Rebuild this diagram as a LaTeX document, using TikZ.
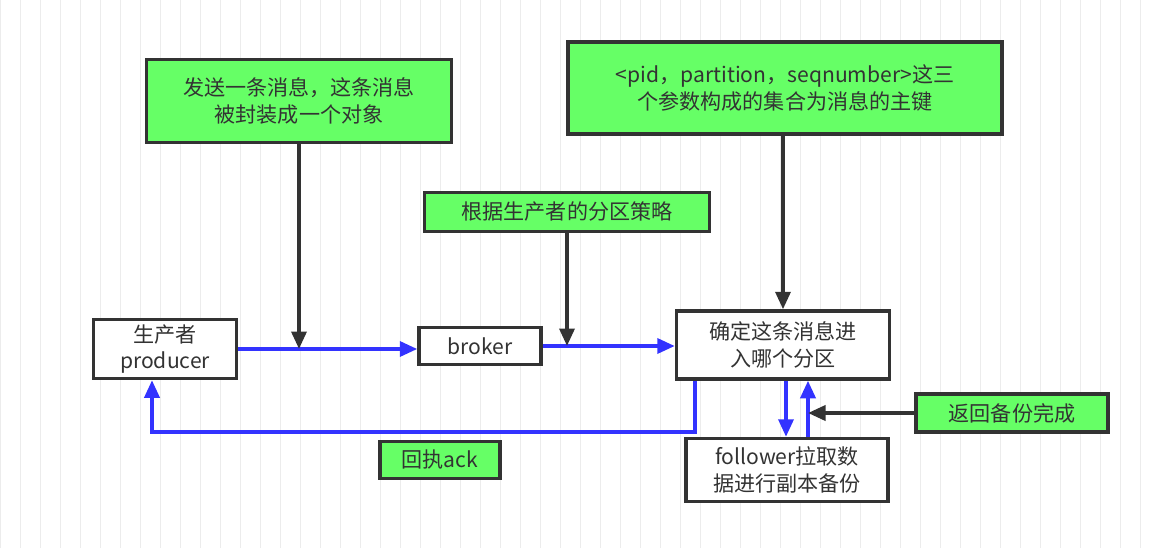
\documentclass[tikz,border=0pt]{standalone}
\usepackage{fontspec}
\setmainfont{Noto Sans CJK SC}
\usetikzlibrary{arrows.meta, positioning}
\definecolor{notegreen}{RGB}{102, 255, 102}
\definecolor{flowblue}{RGB}{51, 51, 255}
\definecolor{linegray}{RGB}{51, 51, 51}

\begin{document}
\begin{tikzpicture}[
    x=0.02cm, y=-0.02cm,
    box/.style={rectangle, draw=linegray, line width=2pt, fill=white, align=center, inner sep=1pt, font=\fontsize{12}{15}\selectfont, text=linegray},
    note/.style={box, fill=notegreen},
    arrow/.style={-{Triangle[length=3.5mm, width=3mm]}, line width=2pt, draw=linegray},
    flow/.style={arrow, draw=flowblue}
]
\useasboundingbox (0,0) rectangle (1157,548);
\draw[gray!15, step=20] (0,0) grid (1157,548);

% 说明框
\node[note, minimum width=6.1cm, minimum height=1.66cm] (send) at (299,101) {发送一条消息，这条消息\\被封装成一个对象};
\node[note, minimum width=8.68cm, minimum height=1.84cm] (key) at (785,88) {<pid，partition，seqnumber>这三\\个参数构成的集合为消息的主键};
\node[note, minimum width=5.7cm, minimum height=0.78cm] (strategy) at (567,212) {根据生产者的分区策略};
\node[note, minimum width=3.84cm, minimum height=0.76cm] (done) at (1012,413) {返回备份完成};
\node[note, minimum width=2.4cm, minimum height=0.74cm] (ack) at (440,460) {回执ack};

% 流程框
\node[box, minimum width=2.86cm, minimum height=1.18cm] (producer) at (165,349) {生产者\\producer};
\node[box, minimum width=2.44cm, minimum height=0.74cm] (broker) at (480,346) {broker};
\node[box, minimum width=4.26cm, minimum height=1.36cm] (partition) at (783,345) {确定这条消息进\\入哪个分区};
\node[box, minimum width=4.04cm, minimum height=1.26cm] (follower) at (787,470) {follower拉取数\\据进行副本备份};

\coordinate (c1) at (299,349);
\coordinate (c2) at (567,346);
\coordinate (c3) at (808,413);
\coordinate (r1) at (695,432);
\coordinate (r2) at (152,432);
\coordinate (d1) at (786,440);

% 蓝色流程线
\draw[flow] (producer.east |- c1) -- (broker.west |- c1);
\draw[flow] (broker) -- (partition.west |- broker);
\draw[flow] (partition.south -| r1) -- (r1) -- (r2) -- (producer.south -| r2);
\draw[flow] (partition.south -| d1) -- (follower.north -| d1);
\draw[flow] (follower.north -| c3) -- (partition.south -| c3);

% 黑色说明线
\draw[arrow] (send) -- (c1);
\draw[arrow] (strategy) -- (c2);
\draw[arrow] (key.south -| partition.north) -- (partition.north);
\draw[arrow] (done) -- (c3);
\end{tikzpicture}
\end{document}
